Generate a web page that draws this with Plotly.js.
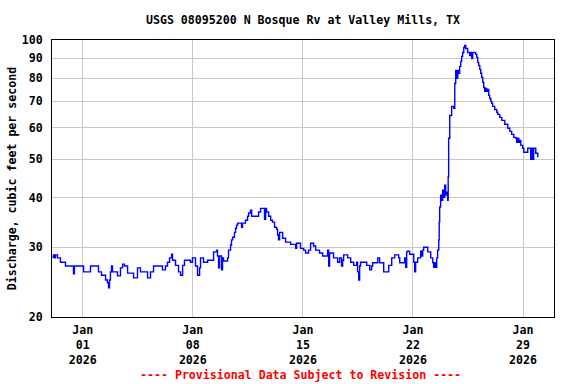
<!DOCTYPE html>
<html>
<head>
<meta charset="utf-8">
<script src="https://cdn.plot.ly/plotly-3.0.1.min.js"></script>
<style>html,body{margin:0;padding:0;background:#fff;}#chart{width:576px;height:384px;}</style>
</head>
<body>
<div id="chart"></div>
<script>
// Days after 2026-01-01 00:00 at which the discharge changes (step series)
const dayOffsets = [
-1.93,-1.86,-1.80,-1.74,-1.61,-1.42,-1.10,-0.59,-0.53,0.05,
0.49,1.00,1.19,1.45,1.57,1.64,1.70,1.76,1.83,1.89,
2.21,2.40,2.53,2.65,2.85,3.23,3.48,3.67,4.12,4.31,
4.50,5.07,5.26,5.39,5.52,5.65,5.71,5.90,6.09,6.22,
6.35,6.47,6.85,6.98,7.17,7.30,7.43,7.49,7.68,7.94,
8.32,8.51,8.57,8.64,8.70,8.83,8.89,8.95,9.21,9.27,
9.40,9.46,9.53,9.65,9.72,9.78,9.85,10.10,10.16,10.35,
10.48,10.55,10.67,10.74,11.18,11.31,11.56,11.63,11.69,11.82,
11.95,12.07,12.20,12.33,12.39,12.45,12.52,12.71,12.90,13.22,
13.54,13.60,13.85,14.05,14.17,14.36,14.49,14.68,14.81,15.06,
15.26,15.57,15.64,15.70,15.95,16.21,16.34,16.46,16.53,16.59,
16.85,17.04,17.23,17.42,17.48,17.55,17.61,17.67,18.06,18.25,
18.37,18.44,18.76,18.88,19.14,19.46,19.65,19.84,20.09,20.16,
20.47,20.54,20.60,20.66,20.79,21.05,21.11,21.17,21.30,21.49,
21.56,21.62,21.68,21.94,22.13,22.26,22.32,22.38,22.45,22.51,
22.57,22.64,22.67,22.70,22.76,22.83,22.89,22.96,23.02,23.08,
23.15,23.21,23.24,23.27,23.34,23.46,23.59,23.66,23.72,23.78,
23.85,23.91,23.97,24.04,24.10,24.16,24.23,24.29,24.36,24.48,
24.61,24.67,24.74,24.80,24.99,25.06,25.12,25.18,25.25,25.31,
25.37,25.44,25.50,25.56,25.63,25.69,25.76,25.82,25.88,25.95,
26.01,26.07,26.20,26.33,26.39,26.52,26.65,26.84,27.03,27.16,
27.28,27.41,27.54,27.60,27.67,27.73,27.79,27.86,27.98,28.05,
28.30,28.49,28.56,28.62,28.68,28.81,28.94
];
// Discharge, cubic feet per second
const discharge = [
28.3,28.7,28.2,28.7,28.2,27.5,26.9,25.7,26.9,26.0,
26.9,26.0,25.5,24.8,24.4,23.7,24.8,26.0,26.9,26.0,
25.4,26.6,27.2,26.9,25.8,25.1,26.6,26.0,25.1,26.0,
26.9,26.3,26.9,27.5,28.2,28.8,27.8,27.0,26.0,25.5,
27.0,27.8,27.5,28.2,26.9,25.5,26.6,28.2,27.5,27.8,
29.2,29.5,28.5,26.6,28.5,26.3,28.2,27.7,28.2,29.5,
30.4,31.3,31.8,32.7,33.5,34.1,34.5,33.7,34.5,35.1,
35.9,36.6,37.2,35.9,36.8,37.6,35.3,37.6,36.8,35.9,
35.1,34.7,33.7,33.3,32.2,31.3,32.7,31.6,30.9,30.5,
29.8,30.7,29.8,29.5,29.0,29.5,30.7,30.2,29.5,29.0,
28.5,29.5,26.9,29.0,28.2,27.5,28.2,26.9,27.8,28.7,
28.2,27.5,27.0,27.5,26.0,24.8,26.9,27.5,27.0,26.3,
26.9,27.4,28.2,27.4,26.0,27.0,28.2,28.7,28.2,27.4,
28.2,26.7,29.2,29.3,28.8,27.5,26.0,27.5,28.2,29.3,
28.5,29.5,30.0,29.2,28.2,27.4,26.7,27.4,26.7,28.2,
29.5,31.3,34.7,37.9,40.6,39.4,41.8,40.1,43.0,40.6,
41.3,39.4,45.1,56.5,64.5,68.0,67.2,77.7,83.8,80.0,
83.8,82.4,85.8,88.3,90.9,93.0,95.7,96.9,95.2,93.0,
91.4,93.0,89.8,93.0,92.0,90.4,87.8,86.3,84.3,82.4,
80.5,78.2,75.9,74.2,75.5,74.2,75.0,72.5,71.2,70.0,
69.2,68.0,66.8,65.7,64.9,63.8,62.7,61.3,59.9,58.8,
57.8,56.8,56.5,55.2,56.5,55.2,55.8,54.2,53.3,52.1,
53.3,50.0,53.3,50.0,53.3,51.8,50.6
];
const yTicks = [20,30,40,50,60,70,80,90,100];
const xTickDates = ['2026-01-01','2026-01-08','2026-01-15','2026-01-22','2026-01-29'];
const xTickText = ['Jan<br>01<br>2026','Jan<br>08<br>2026','Jan<br>15<br>2026','Jan<br>22<br>2026','Jan<br>29<br>2026'];
const chartTitle = 'USGS 08095200 N Bosque Rv at Valley Mills, TX';
const yTitle = 'Discharge, cubic feet per second';
const footer = '---- Provisional Data Subject to Revision ----';

const base = Date.UTC(2026,0,1);
const times = dayOffsets.map(d => new Date(base + d*86400000).toISOString().slice(0,19).replace('T',' '));

const F = {family:'"DejaVu Sans Mono", "Liberation Mono", monospace', size:11.6, color:'#000', weight:'bold'};

Plotly.newPlot('chart', [{
  x: times, y: discharge, type:'scatter', mode:'lines',
  line:{color:'#0000ff', width:1.4, shape:'hv'}, hoverinfo:'skip'
}], {
  width:576, height:384,
  margin:{l:52, r:22, t:40, b:67, pad:0},
  paper_bgcolor:'#fff', plot_bgcolor:'#fff',
  showlegend:false,
  font:F,
  title:{text:chartTitle, font:F, x:0.5, xref:'paper', y:1-19.5/384, yref:'container', yanchor:'middle'},
  xaxis:{type:'date', range:['2025-12-30 01:03','2026-01-30 23:17'],
    tickvals:xTickDates, ticktext:xTickText, tickfont:F, ticklabelstandoff:2,
    showgrid:true, gridcolor:'#c8c8c8', gridwidth:1,
    showline:true, linecolor:'#000', linewidth:1, mirror:true,
    ticks:'', zeroline:false, fixedrange:true},
  yaxis:{type:'log', range:[Math.log10(20), 2],
    tickvals:yTicks, ticktext:yTicks.map(String), tickfont:F, ticklabelstandoff:6,
    showgrid:true, gridcolor:'#c8c8c8', gridwidth:1,
    showline:true, linecolor:'#000', linewidth:1, mirror:true,
    ticks:'', zeroline:false, fixedrange:true,
    title:{text:yTitle, font:F, standoff:2}},
  annotations:[{text:footer, xref:'paper', yref:'paper', x:0.496, y:-(375-317)/277,
    xanchor:'center', yanchor:'middle', showarrow:false,
    font:{family:F.family, size:11.6, color:'#ff0000', weight:'bold'}}]
}, {staticPlot:true, displayModeBar:false});
</script>
</body>
</html>
